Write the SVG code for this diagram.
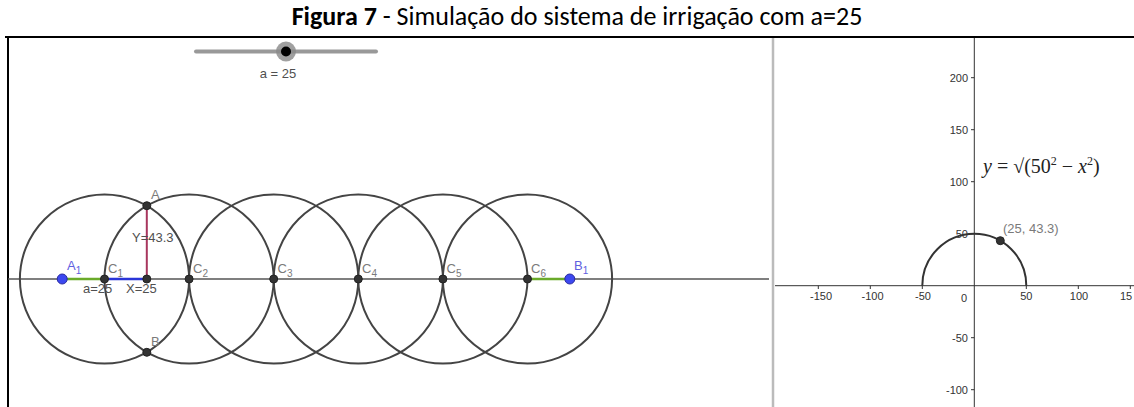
<svg xmlns="http://www.w3.org/2000/svg" width="1134" height="407" viewBox="0 0 1134 407">
<style>
.lbl{font-family:"Liberation Sans",Arial,sans-serif;font-size:13px;fill:#7a7a7a}
.lblb{font-family:"Liberation Sans",Arial,sans-serif;font-size:13px;fill:#6060e0}
.val{font-family:"Liberation Sans",Arial,sans-serif;font-size:13px;fill:#505050}
.tick{font-family:"Liberation Sans",Arial,sans-serif;font-size:11px;fill:#333}
.circ{fill:none;stroke:#444;stroke-width:2}
.pt{fill:#333;stroke:#222;stroke-width:1}
.bpt{fill:#3c48f0;stroke:#2a2aa0;stroke-width:1}
.sub{font-size:10px}
</style>
<rect width="1134" height="407" fill="#fff"/>
<g id="title">
<text x="577" y="25" text-anchor="middle" font-family="Carlito,'Liberation Sans',sans-serif" font-size="26" fill="#000"><tspan font-weight="bold">Figura 7</tspan> - Simulação do sistema de irrigação com a=25</text>
</g>
<g id="frame">
<line x1="5" y1="37" x2="1134" y2="37" stroke="#000" stroke-width="2"/>
<line x1="8" y1="37" x2="8" y2="407" stroke="#000" stroke-width="2"/>
<line x1="773" y1="38" x2="773" y2="407" stroke="#bbb" stroke-width="2.5"/>
</g>
<g id="slider">
<line x1="196" y1="51.5" x2="376" y2="51.5" stroke="#999" stroke-width="4" stroke-linecap="round"/>
<circle cx="286" cy="51.5" r="10" fill="#888" opacity="0.8"/>
<circle cx="286" cy="51.5" r="5" fill="#000"/>
<text x="278" y="78" class="val" text-anchor="middle" font-size="12">a = 25</text>
</g>
<g id="left-axis">
<line x1="8" y1="279" x2="769" y2="279" stroke="#555" stroke-width="1.5"/>
</g>
<g id="circles">
<circle class="circ" cx="104.5" cy="279" r="84.6"/>
<circle class="circ" cx="189.1" cy="279" r="84.6"/>
<circle class="circ" cx="273.7" cy="279" r="84.6"/>
<circle class="circ" cx="358.3" cy="279" r="84.6"/>
<circle class="circ" cx="442.9" cy="279" r="84.6"/>
<circle class="circ" cx="527.5" cy="279" r="84.6"/>
</g>
<g id="connectors">
<line x1="62.2" y1="279" x2="104.5" y2="279" stroke="#6aaa2a" stroke-width="2.5"/>
<line x1="104.5" y1="279" x2="146.8" y2="279" stroke="#2a35d8" stroke-width="2.5"/>
<line x1="146.8" y1="279" x2="146.8" y2="205.7" stroke="#a8365e" stroke-width="2"/>
<line x1="527.5" y1="279" x2="569.8" y2="279" stroke="#6aaa2a" stroke-width="2.5"/>
</g>
<g id="points">
<g id="pA"><circle class="pt" cx="146.8" cy="205.7" r="4"/><text class="lbl" x="151" y="199">A</text></g>
<g id="pB"><circle class="pt" cx="146.8" cy="352.3" r="4"/><text class="lbl" x="151" y="346">B</text></g>
<g id="pX"><circle class="pt" cx="146.8" cy="279" r="4"/></g>
<g id="pA1"><circle class="bpt" cx="62.2" cy="279" r="5"/><text class="lblb" x="67" y="270">A<tspan class="sub" dy="4">1</tspan></text></g>
<g id="pB1"><circle class="bpt" cx="569.8" cy="279" r="5"/><text class="lblb" x="574" y="270">B<tspan class="sub" dy="4">1</tspan></text></g>
<g id="pC1"><circle class="pt" cx="104.5" cy="279" r="4"/><text class="lbl" x="108" y="273">C<tspan class="sub" dy="4">1</tspan></text></g>
<g id="pC2"><circle class="pt" cx="189.1" cy="279" r="4"/><text class="lbl" x="193" y="273">C<tspan class="sub" dy="4">2</tspan></text></g>
<g id="pC3"><circle class="pt" cx="273.7" cy="279" r="4"/><text class="lbl" x="277.5" y="273">C<tspan class="sub" dy="4">3</tspan></text></g>
<g id="pC4"><circle class="pt" cx="358.3" cy="279" r="4"/><text class="lbl" x="362" y="273">C<tspan class="sub" dy="4">4</tspan></text></g>
<g id="pC5"><circle class="pt" cx="442.9" cy="279" r="4"/><text class="lbl" x="446.5" y="273">C<tspan class="sub" dy="4">5</tspan></text></g>
<g id="pC6"><circle class="pt" cx="527.5" cy="279" r="4"/><text class="lbl" x="531" y="273">C<tspan class="sub" dy="4">6</tspan></text></g>
<text class="val" x="83" y="293">a=25</text>
<text class="val" x="126" y="293">X=25</text>
<text class="val" x="132" y="242">Y=43.3</text>
</g>
<g id="graph">
<line x1="775" y1="285.7" x2="1134" y2="285.7" stroke="#333" stroke-width="1"/>
<line x1="974.3" y1="38" x2="974.3" y2="407" stroke="#333" stroke-width="1"/>
<g stroke="#333" stroke-width="1">
<line x1="818.3" y1="285.7" x2="818.3" y2="289"/>
<line x1="870.3" y1="285.7" x2="870.3" y2="289"/>
<line x1="922.3" y1="285.7" x2="922.3" y2="289"/>
<line x1="1026.3" y1="285.7" x2="1026.3" y2="289"/>
<line x1="1078.3" y1="285.7" x2="1078.3" y2="289"/>
<line x1="1130.3" y1="285.7" x2="1130.3" y2="289"/>
<line x1="971" y1="77.7" x2="974.3" y2="77.7"/>
<line x1="971" y1="129.7" x2="974.3" y2="129.7"/>
<line x1="971" y1="181.7" x2="974.3" y2="181.7"/>
<line x1="971" y1="233.7" x2="974.3" y2="233.7"/>
<line x1="971" y1="337.7" x2="974.3" y2="337.7"/>
<line x1="971" y1="389.7" x2="974.3" y2="389.7"/>
</g>
<g class="tick" text-anchor="middle">
<text x="821" y="300">-150</text>
<text x="872.5" y="300">-100</text>
<text x="923" y="300">-50</text>
<text x="1026.3" y="300">50</text>
<text x="1079" y="300">100</text>
</g>
<text class="tick" x="1120" y="300">15</text>
<g class="tick" text-anchor="end">
<text x="967" y="302">0</text>
<text x="968" y="81.5">200</text>
<text x="968" y="133.5">150</text>
<text x="968" y="185.5">100</text>
<text x="968" y="237.5">50</text>
<text x="968" y="341.5">-50</text>
<text x="968" y="393.5">-100</text>
</g>
<path d="M922.3,285.7 A52,52 0 0 1 1026.3,285.7" fill="none" stroke="#333" stroke-width="2"/>
<circle class="pt" cx="1000.3" cy="240.7" r="4"/>
<text class="lbl" x="1003" y="233">(25, 43.3)</text>
<text x="983" y="173" font-family="'Liberation Serif','Times New Roman',serif" font-size="20" fill="#222"><tspan font-style="italic">y</tspan> = √(50<tspan font-size="12" dy="-8">2</tspan><tspan dy="8"> − </tspan><tspan font-style="italic">x</tspan><tspan font-size="12" dy="-8">2</tspan><tspan dy="8">)</tspan></text>
</g>
</svg>
